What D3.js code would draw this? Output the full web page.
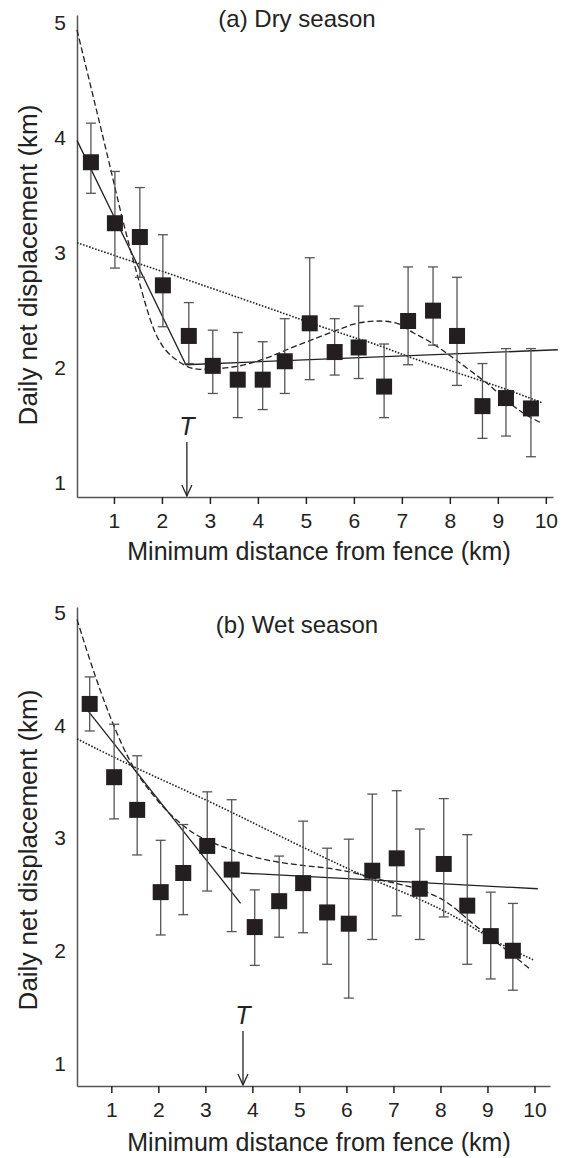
<!doctype html>
<html>
<head>
<meta charset="utf-8">
<script src="https://d3js.org/d3.v7.min.js"></script>
<style>
body { margin: 0; background: #fff; }
svg { display: block; font-family: "Liberation Sans", Arial, sans-serif; }
</style>
</head>
<body>
<svg width="563" height="1158"></svg>
<script>

// ---- data: (a) dry season ----
var dryX  = [0.52, 1.02, 1.54, 2.02, 2.56, 3.06, 3.58, 4.10, 4.56, 5.08, 5.60, 6.10, 6.63, 7.13, 7.65, 8.15, 8.68, 9.17, 9.69];
var dryY  = [3.79, 3.26, 3.14, 2.72, 2.28, 2.02, 1.90, 1.90, 2.06, 2.39, 2.14, 2.18, 1.84, 2.41, 2.50, 2.28, 1.67, 1.74, 1.65];
var dryHi = [4.13, 3.71, 3.57, 3.16, 2.57, 2.33, 2.31, 2.23, 2.43, 2.96, 2.43, 2.54, 2.21, 2.88, 2.88, 2.79, 2.04, 2.17, 2.17];
var dryLo = [3.52, 2.87, 2.79, 2.36, 2.04, 1.78, 1.57, 1.64, 1.78, 1.90, 1.94, 1.91, 1.57, 2.03, 2.20, 1.85, 1.39, 1.41, 1.23];

var drySolidX = [0.23, 2.50, 10.25];
var drySolidY = [3.98, 2.03, 2.16];
var dryDashX = [0.23, 0.92, 1.17, 1.50, 1.81, 2.38, 2.79, 3.48, 4.19, 4.60, 5.02, 5.65, 6.06, 6.54, 6.90, 7.23, 7.58, 8.00, 8.42, 8.77, 9.10, 9.46, 9.92];
var dryDashY = [4.94, 3.75, 3.31, 2.79, 2.36, 2.05, 1.99, 2.01, 2.09, 2.16, 2.23, 2.33, 2.39, 2.41, 2.39, 2.31, 2.23, 2.11, 1.98, 1.87, 1.75, 1.63, 1.52];
var dryDotX = [0.23, 1.50, 2.10, 4.25, 5.65, 6.54, 7.17, 8.15, 9.10, 9.92];
var dryDotY = [3.09, 2.91, 2.83, 2.52, 2.31, 2.20, 2.09, 1.96, 1.83, 1.70];
var dryT = 2.52;

// ---- data: (b) wet season ----
var wetX  = [0.54, 1.06, 1.55, 2.05, 2.53, 3.04, 3.56, 4.05, 4.57, 5.08, 5.59, 6.05, 6.55, 7.07, 7.56, 8.07, 8.57, 9.07, 9.54];
var wetY  = [4.19, 3.54, 3.25, 2.52, 2.69, 2.93, 2.72, 2.21, 2.44, 2.60, 2.34, 2.24, 2.71, 2.82, 2.55, 2.77, 2.40, 2.13, 2.00];
var wetHi = [4.43, 4.01, 3.73, 2.98, 3.12, 3.41, 3.34, 2.54, 2.84, 3.15, 2.91, 2.99, 3.39, 3.42, 3.08, 3.35, 3.03, 2.52, 2.42];
var wetLo = [3.95, 3.17, 2.85, 2.14, 2.32, 2.53, 2.17, 1.87, 2.12, 2.16, 1.88, 1.58, 2.10, 2.31, 2.10, 2.30, 1.88, 1.75, 1.65];

var wetSolid1X = [0.50, 3.75];
var wetSolid1Y = [4.13, 2.42];
var wetSolid2X = [3.75, 10.07];
var wetSolid2Y = [2.69, 2.55];
var wetDashX = [0.27, 0.69, 1.03, 1.39, 1.97, 2.56, 3.59, 4.37, 5.01, 5.65, 6.07, 6.71, 7.41, 8.06, 8.78, 9.33, 9.90];
var wetDashY = [4.94, 4.40, 4.02, 3.69, 3.34, 3.10, 2.89, 2.80, 2.76, 2.73, 2.70, 2.63, 2.56, 2.45, 2.21, 2.03, 1.84];
var wetDotX = [0.27, 1.46, 3.03, 4.37, 6.01, 6.56, 7.56, 8.35, 9.20, 9.97];
var wetDotY = [3.88, 3.63, 3.34, 3.06, 2.73, 2.63, 2.46, 2.30, 2.07, 1.92];
var wetT = 3.80;

var xTicks = [1, 2, 3, 4, 5, 6, 7, 8, 9, 10];
var yTicks = [1, 2, 3, 4, 5];
var xLabel = "Minimum distance from fence (km)";
var yLabel = "Daily net displacement (km)";

var svg = d3.select("svg");

function panel(o) {
	var x = d3.scaleLinear().domain(o.xDom).range([77, o.xEnd]);
	var y = d3.scaleLinear().domain(o.yDom).range([o.bottom, o.top]);
	var g = svg.append("g");

	// axes
	var ax = g.append("g")
		.attr("transform", "translate(0," + o.bottom + ")")
		.call(d3.axisBottom(x).tickValues(xTicks).tickFormat(d3.format("d"))
			.tickSize(7).tickSizeOuter(0).tickPadding(9));
	var ay = g.append("g")
		.attr("transform", "translate(77,0)")
		.call(d3.axisLeft(y).tickValues(yTicks).tickFormat(d3.format("d"))
			.tickSize(0).tickSizeOuter(0).tickPadding(11));
	[ax, ay].forEach(function(a) {
		a.select(".domain").attr("stroke", "#555").attr("stroke-width", 1.5);
		a.selectAll(".tick line").attr("stroke", "#222").attr("stroke-width", 1.5);
		a.selectAll(".tick text").attr("fill", "#222").style("font-size", "21px");
	});

	var line = d3.line().x(function(d) { return x(d[0]); }).y(function(d) { return y(d[1]); });
	var curve = d3.line().curve(d3.curveMonotoneX).x(function(d) { return x(d[0]); }).y(function(d) { return y(d[1]); });
	var smooth = d3.line().curve(d3.curveBasis).x(function(d) { return x(d[0]); }).y(function(d) { return y(d[1]); });
	function pts(xs, ys) { return xs.map(function(v, i) { return [v, ys[i]]; }); }

	// fitted lines
	o.solids.forEach(function(s) {
		g.append("path").attr("d", line(pts(s[0], s[1])))
			.attr("fill", "none").attr("stroke", "#222").attr("stroke-width", 1.3);
	});
	g.append("path").attr("d", curve(pts(o.dashX, o.dashY)))
		.attr("fill", "none").attr("stroke", "#222").attr("stroke-width", 1.3)
		.attr("stroke-dasharray", "6,3");
	g.append("path").attr("d", smooth(pts(o.dotX, o.dotY)))
		.attr("fill", "none").attr("stroke", "#222").attr("stroke-width", 1.6)
		.attr("stroke-dasharray", "1.6,1.6");

	// error bars
	var data = o.px.map(function(v, i) { return {x: v, y: o.py[i], hi: o.hi[i], lo: o.lo[i]}; });
	var eb = g.append("g").attr("stroke", "#555").attr("stroke-width", 1.3);
	eb.selectAll("line.v").data(data).enter().append("line")
		.attr("x1", function(d) { return x(d.x); }).attr("x2", function(d) { return x(d.x); })
		.attr("y1", function(d) { return y(d.hi); }).attr("y2", function(d) { return y(d.lo); });
	eb.selectAll("line.hi").data(data).enter().append("line")
		.attr("x1", function(d) { return x(d.x) - 5; }).attr("x2", function(d) { return x(d.x) + 5; })
		.attr("y1", function(d) { return y(d.hi); }).attr("y2", function(d) { return y(d.hi); });
	eb.selectAll("line.lo").data(data).enter().append("line")
		.attr("x1", function(d) { return x(d.x) - 5; }).attr("x2", function(d) { return x(d.x) + 5; })
		.attr("y1", function(d) { return y(d.lo); }).attr("y2", function(d) { return y(d.lo); });

	// squares
	g.append("g").selectAll("rect").data(data).enter().append("rect")
		.attr("x", function(d) { return x(d.x) - 8; })
		.attr("y", function(d) { return y(d.y) - 8; })
		.attr("width", 16).attr("height", 16)
		.attr("fill", "#231f20");

	// threshold arrow
	var tx = x(o.t);
	g.append("line").attr("x1", tx).attr("x2", tx)
		.attr("y1", o.bottom - 55).attr("y2", o.bottom - 1)
		.attr("stroke", "#222").attr("stroke-width", 1.3);
	g.append("path")
		.attr("d", "M" + (tx - 5) + "," + (o.bottom - 12) + "L" + tx + "," + (o.bottom - 1) + "L" + (tx + 5) + "," + (o.bottom - 12))
		.attr("fill", "none").attr("stroke", "#222").attr("stroke-width", 1.3);
	g.append("text").attr("x", tx).attr("y", o.bottom - 62)
		.attr("text-anchor", "middle").style("font-size", "25px").style("font-style", "italic")
		.attr("fill", "#222").text("T");

	// texts
	g.append("text").attr("x", 297).attr("y", o.titleY)
		.attr("text-anchor", "middle").style("font-size", "24px").attr("fill", "#222").text(o.title);
	g.append("text").attr("x", 319).attr("y", o.xLabY)
		.attr("text-anchor", "middle").style("font-size", "25px").attr("fill", "#222").text(xLabel);
	g.append("text").attr("transform", "translate(37," + o.yLabC + ") rotate(-90)")
		.attr("text-anchor", "middle").style("font-size", "26px").attr("fill", "#222").text(yLabel);
}

panel({
	xDom: [0.23, 10.15], xEnd: 553, yDom: [0.88, 5.07], top: 15, bottom: 497,
	px: dryX, py: dryY, hi: dryHi, lo: dryLo,
	solids: [[drySolidX, drySolidY]],
	dashX: dryDashX, dashY: dryDashY, dotX: dryDotX, dotY: dryDotY,
	t: dryT, title: "(a) Dry season", titleY: 27, xLabY: 560, yLabC: 265
});
panel({
	xDom: [0.27, 10.33], xEnd: 550, yDom: [0.80, 5.05], top: 607, bottom: 1086,
	px: wetX, py: wetY, hi: wetHi, lo: wetLo,
	solids: [[wetSolid1X, wetSolid1Y], [wetSolid2X, wetSolid2Y]],
	dashX: wetDashX, dashY: wetDashY, dotX: wetDotX, dotY: wetDotY,
	t: wetT, title: "(b) Wet season", titleY: 633, xLabY: 1151, yLabC: 850
});

</script>
</body>
</html>
